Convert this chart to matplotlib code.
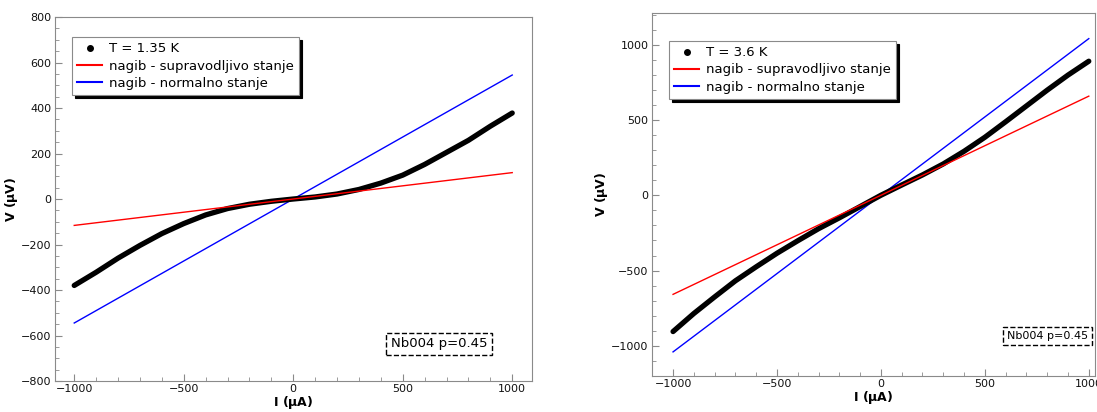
import matplotlib.pyplot as plt
from matplotlib.lines import Line2D
from matplotlib.ticker import MultipleLocator

# struja (uA) i napon (uV), ocitano sa slike
I_135 = [-1000, -900, -800, -700, -600, -500, -400, -300, -200, -100, 0,
         100, 200, 300, 400, 500, 600, 700, 800, 900, 1000]
V_135 = [-380, -322, -260, -204, -152, -108, -70, -42, -23, -10, 0,
         9, 22, 42, 70, 105, 152, 205, 258, 320, 378]

I_36 = [-1000, -900, -800, -700, -600, -500, -400, -300, -200, -100, 0,
        100, 200, 300, 400, 500, 600, 700, 800, 900, 1000]
V_36 = [-905, -785, -675, -568, -475, -385, -302, -222, -150, -75, 0,
        68, 135, 208, 292, 385, 488, 593, 698, 798, 890]

# nagibi (uV/uA)
fit_I = [-1000, 1000]
slope_sc_135 = 0.116
slope_n_135 = 0.545
slope_sc_36 = 0.658
slope_n_36 = 1.04

labels = ["nagib - supravodljivo stanje", "nagib - normalno stanje"]
GRAY = '#8a8a8a'


def panel(ax, I, V, T, s_sc, s_n, xlim, ylim, ymaj, ymin, leg_xy, box_xy, box_fs):
    ax.plot(I, V, '-', color='k', lw=3.8, solid_capstyle='round',
            solid_joinstyle='round', zorder=3)
    ax.plot(fit_I, [s_sc * i for i in fit_I], color='#ff0000', lw=1.0, zorder=4)
    ax.plot(fit_I, [s_n * i for i in fit_I], color='#0000ff', lw=1.0, zorder=2)
    ax.set_xlim(*xlim)
    ax.set_ylim(*ylim)
    ax.xaxis.set_major_locator(MultipleLocator(500))
    ax.xaxis.set_minor_locator(MultipleLocator(100))
    ax.yaxis.set_major_locator(MultipleLocator(ymaj))
    ax.yaxis.set_minor_locator(MultipleLocator(ymin))
    ax.tick_params(which='both', direction='in', color=GRAY, labelsize=8,
                   labelcolor='#111111', pad=2.5)
    ax.tick_params(which='major', length=5)
    ax.tick_params(which='minor', length=3)
    for sp in ax.spines.values():
        sp.set_color(GRAY)
    ax.set_xlabel(r'I ($\mathbf{\mu}$A)', fontweight='bold', fontsize=9, labelpad=0)
    ax.set_ylabel(r'V ($\mathbf{\mu}$V)', fontweight='bold', fontsize=9, labelpad=1)

    handles = [Line2D([], [], ls='none', marker='o', color='k', ms=4),
               Line2D([], [], color='#ff0000', lw=1.5),
               Line2D([], [], color='#0000ff', lw=1.5)]
    leg = ax.legend(handles, ['T = %s K' % T] + labels, loc='upper left',
                    bbox_to_anchor=leg_xy, fontsize=9.5, fancybox=False,
                    framealpha=1, edgecolor=GRAY, borderpad=0.4,
                    borderaxespad=0, labelspacing=0.32, handlelength=1.9,
                    handletextpad=0.5,
                    shadow={'facecolor': 'k', 'edgecolor': 'k', 'alpha': 1})
    leg.get_frame().set_linewidth(0.8)

    ax.text(box_xy[0], box_xy[1], 'Nb004 p=0.45', transform=ax.transAxes,
            fontsize=box_fs, ha='right', va='bottom',
            bbox=dict(boxstyle='square,pad=0.35', facecolor='white',
                      edgecolor='k', linestyle='--', linewidth=1.0))


fig = plt.figure(figsize=(10.97, 4.12), dpi=100)
ax1 = fig.add_axes([0.0501, 0.0752, 0.4348, 0.8835])
ax2 = fig.add_axes([0.5944, 0.0874, 0.4038, 0.8810])

panel(ax1, I_135, V_135, '1.35', slope_sc_135, slope_n_135,
      (-1088, 1090), (-800, 800), 200, 50, (0.036, 0.945), (0.906, 0.084), 9.5)
panel(ax2, I_36, V_36, '3.6', slope_sc_36, slope_n_36,
      (-1101, 1030), (-1200, 1210), 500, 100, (0.038, 0.923), (0.984, 0.096), 8)

fig.savefig('out.png', dpi=100)
